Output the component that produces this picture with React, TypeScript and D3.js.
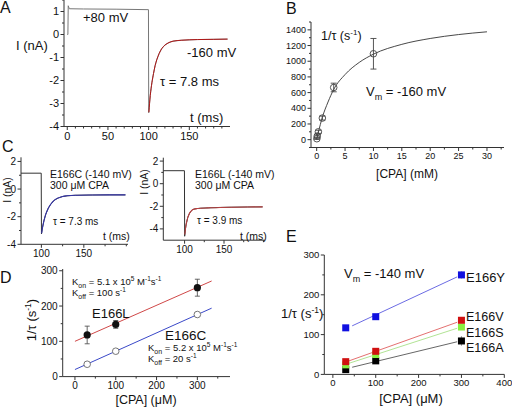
import React from "react";
import * as d3 from "d3";

// ---------- DATA ----------
// Panel A: recorded current (t ms, I nA) and exponential fit (tau = 7.8 ms)
const traceA: [number, number][] = [
  [0, 0], [0.8, 0], [1.2, 1.25], [2.5, 1.12], [20, 1.11], [60, 1.1], [99.8, 1.08],
  [100.1, -3.4], [102, -2.65], [104, -2.1], [106, -1.7], [108, -1.35], [110, -1.1],
  [113, -0.82], [116, -0.62], [120, -0.46], [125, -0.35], [130, -0.29], [140, -0.25],
  [160, -0.22], [180, -0.21], [197, -0.2],
];
const fitA: [number, number][] = [
  [100.3, -3.38], [102, -2.65], [104, -2.1], [106, -1.7], [108, -1.35], [110, -1.1],
  [113, -0.82], [116, -0.62], [120, -0.46], [125, -0.35], [130, -0.29], [140, -0.25],
  [160, -0.22], [180, -0.21], [197, -0.2],
];
const ticksA_x = [0, 50, 100, 150];
const ticksA_y = [-4, -3, -2, -1, 0, 1];

// Panel B: 1/tau vs [CPA] (mM)
const cpaB = [0.03, 0.1, 0.3, 1, 3, 10];
const rateB = [12, 45, 100, 275, 665, 1095];
const errB = [8, 15, 20, 25, 55, 195];
const fitB: [number, number][] = [
  [0, 5], [0.3, 95], [1, 285], [2, 480], [3, 640], [5, 830], [7.5, 985], [10, 1090],
  [15, 1215], [20, 1290], [25, 1340], [30, 1375],
];
const ticksB_x = [0, 5, 10, 15, 20, 25, 30];
const ticksB_y = [0, 200, 400, 600, 800, 1000, 1200, 1400];

// Panel C: E166C and E166L traces at -140 mV, 300 uM CPA
const traceC1: [number, number][] = [
  [76, 1.15], [99.8, 1.15], [100.1, -3.25], [101, -2.9], [103, -2.3], [105, -1.85],
  [108, -1.4], [111, -1.1], [115, -0.82], [120, -0.64], [125, -0.54], [130, -0.49],
  [140, -0.45], [160, -0.43], [180, -0.42], [199, -0.42],
];
const fitC1: [number, number][] = [
  [100.3, -3.2], [101, -2.9], [103, -2.3], [105, -1.85], [108, -1.4], [111, -1.1],
  [115, -0.82], [120, -0.64], [125, -0.54], [130, -0.49], [140, -0.45], [160, -0.43],
  [180, -0.42], [199, -0.42],
];
const traceC2: [number, number][] = [
  [73, 1.15], [99.8, 1.15], [100.1, -4.65], [101, -4.05], [102, -3.6], [104, -3.0],
  [106, -2.65], [108, -2.45], [110, -2.3], [112, -2.25], [116, -2.2], [120, -2.17],
  [130, -2.14], [145, -2.1], [160, -2.08], [180, -2.06], [199, -2.05],
];
const fitC2: [number, number][] = [
  [100.3, -4.5], [101, -4.05], [102, -3.6], [104, -3.0], [106, -2.65], [108, -2.45],
  [110, -2.3], [112, -2.25], [116, -2.2], [120, -2.17], [130, -2.14], [145, -2.1],
  [160, -2.08], [180, -2.06], [199, -2.05],
];
const ticksC_x = [100, 150];
const ticksC_y = [-4, -2, 0, 2];

// Panel D: linear rate vs [CPA] (uM)
const cpaD = [30, 100, 300];
const rateD_L = [118, 148, 252];
const errD_L = [25, 11, 24];
const rateD_C = [35, 72, 176];
const lineD_L: [number, number][] = [[0, 100], [335, 271]];
const lineD_C: [number, number][] = [[0, 20], [335, 194]];
const ticksD_x = [0, 100, 200, 300];
const ticksD_y = [0, 100, 200, 300];

// Panel E: mutants at -140 mV
const cpaE = [30, 100, 300];
const rateE_Y = [117, 145, 250];
const rateE_V = [32, 58, 136];
const rateE_S = [24, 50, 119];
const rateE_A = [12, 34, 84];
const errE_A = [3, 4, 12];
const errE_Y = [3, 4, 9];
const lineE_Y: [number, number][] = [[45, 122], [290, 245]];
const lineE_V: [number, number][] = [[35, 33], [290, 131]];
const lineE_S: [number, number][] = [[35, 27], [290, 116]];
const lineE_A: [number, number][] = [[45, 18], [290, 82]];
const ticksE_x = [0, 100, 200, 300, 400];
const ticksE_y = [0, 100, 200, 300];

// ---------- HELPERS ----------
const FONT = "'Liberation Sans', Arial, Helvetica, sans-serif";
const AX = "#333";

type Sc = d3.ScaleLinear<number, number>;

function range(a: number, b: number, s: number) {
  const r: number[] = [];
  for (let v = a; v <= b + 1e-9; v += s) r.push(+v.toFixed(6));
  return r;
}

function LeftAxis({ x, y, major, minor, fs }: { x: Sc; y: Sc; major: number[]; minor: number[]; fs: number }) {
  const x0 = x.range()[0];
  const [r0, r1] = y.range();
  return (
    <g stroke={AX} strokeWidth={1}>
      <line x1={x0} x2={x0} y1={r0} y2={r1} />
      {minor.map((v) => (
        <line key={"m" + v} x1={x0 - 2} x2={x0} y1={y(v)} y2={y(v)} />
      ))}
      {major.map((v) => (
        <g key={v}>
          <line x1={x0 - 3.5} x2={x0} y1={y(v)} y2={y(v)} />
          <text x={x0 - 5} y={y(v)} dy="0.35em" textAnchor="end" fontSize={fs} stroke="none" fill="#111">
            {v}
          </text>
        </g>
      ))}
    </g>
  );
}

function BottomAxis({ x, y, major, minor, fs }: { x: Sc; y: Sc; major: number[]; minor: number[]; fs: number }) {
  const y0 = y.range()[0];
  const [r0, r1] = x.range();
  return (
    <g stroke={AX} strokeWidth={1}>
      <line x1={r0} x2={r1} y1={y0} y2={y0} />
      {minor.map((v) => (
        <line key={"m" + v} x1={x(v)} x2={x(v)} y1={y0} y2={y0 + 2} />
      ))}
      {major.map((v) => (
        <g key={v}>
          <line x1={x(v)} x2={x(v)} y1={y0} y2={y0 + 3.5} />
          <text x={x(v)} y={y0 + 4 + fs * 0.85} textAnchor="middle" fontSize={fs} stroke="none" fill="#111">
            {v}
          </text>
        </g>
      ))}
    </g>
  );
}

function path(pts: [number, number][], x: Sc, y: Sc, smooth: boolean) {
  const l = d3
    .line<[number, number]>()
    .x((d) => x(d[0]))
    .y((d) => y(d[1]))
    .curve(smooth ? d3.curveMonotoneX : d3.curveLinear);
  return l(pts) || "";
}

function ErrBar({ cx, y, v, e, w = 3, color = "#555" }: { cx: number; y: Sc; v: number; e: number; w?: number; color?: string }) {
  return (
    <g stroke={color} strokeWidth={0.9}>
      <line x1={cx} x2={cx} y1={y(v - e)} y2={y(v + e)} />
      <line x1={cx - w} x2={cx + w} y1={y(v - e)} y2={y(v - e)} />
      <line x1={cx - w} x2={cx + w} y1={y(v + e)} y2={y(v + e)} />
    </g>
  );
}

// ---------- APP ----------
export default function App() {
  // Panel A scales
  const xA = d3.scaleLinear().domain([-4, 200]).range([64, 230]);
  const yA = d3.scaleLinear().domain([-4, 1.5]).range([126.5, 0]);
  // Panel B
  const xB = d3.scaleLinear().domain([-1, 33]).range([311, 504]);
  const yB = d3.scaleLinear().domain([-100, 1500]).range([147.5, 22]);
  // Panel C
  const xC1 = d3.scaleLinear().domain([76, 202]).range([21, 128]);
  const yC1 = d3.scaleLinear().domain([-4, 2.3]).range([244.3, 157.3]);
  const xC2 = d3.scaleLinear().domain([73, 202]).range([163.3, 265]);
  const yC2 = d3.scaleLinear().domain([-5, 2.3]).range([240.2, 157.7]);
  // Panel D
  const xD = d3.scaleLinear().domain([-30, 380]).range([62.7, 230]);
  const yD = d3.scaleLinear().domain([0, 305]).range([376.6, 269]);
  // Panel E
  const xE = d3.scaleLinear().domain([-20, 400]).range([324.3, 504.3]);
  const yE = d3.scaleLinear().domain([0, 300]).range([374.4, 255]);

  const sq = 7;

  return (
    <svg
      width={512}
      height={407}
      viewBox="0 0 512 407"
      style={{ position: "absolute", left: 0, top: 0, background: "#fff" }}
      fontFamily={FONT}
    >
      <rect width={512} height={407} fill="#fff" />

      {/* ---------------- Panel A ---------------- */}
      <text x={0} y={13} fontSize={16} fill="#111">A</text>
      <LeftAxis x={xA} y={yA} major={ticksA_y} minor={range(-3.5, 1.5, 1)} fs={11} />
      <BottomAxis x={xA} y={yA} major={ticksA_x} minor={range(10, 190, 10).filter((v) => v % 50 !== 0)} fs={11} />
      <path d={path(traceA, xA, yA, false)} fill="none" stroke="#777" strokeWidth={1} />
      <path d={path(fitA, xA, yA, true)} fill="none" stroke="#b01818" strokeWidth={1} />
      <text x={16} y={50} fontSize={13} fill="#111">I (nA)</text>
      <text x={83} y={22} fontSize={13} fill="#111">+80 mV</text>
      <text x={187} y={57} fontSize={13} fill="#111">-160 mV</text>
      <text x={160} y={86} fontSize={13} fill="#111">τ = 7.8 ms</text>
      <text x={190} y={122} fontSize={13} fill="#111">t (ms)</text>

      {/* ---------------- Panel B ---------------- */}
      <text x={286} y={14} fontSize={16} fill="#111">B</text>
      <LeftAxis x={xB} y={yB} major={ticksB_y} minor={range(-100, 1500, 200)} fs={9} />
      <BottomAxis x={xB} y={yB} major={ticksB_x} minor={range(2.5, 32.5, 5)} fs={9} />
      <path d={path(fitB, xB, yB, true)} fill="none" stroke="#333" strokeWidth={0.9} />
      {cpaB.map((c, i) => (
        <g key={i}>
          <ErrBar cx={xB(c)} y={yB} v={rateB[i]} e={errB[i]} w={3} color="#444" />
          <circle cx={xB(c)} cy={yB(rateB[i])} r={3.3} fill="none" stroke="#444" strokeWidth={0.9} />
        </g>
      ))}
      <text x={321} y={40} fontSize={12.5} fill="#111">
        1/τ (s<tspan dy={-5} fontSize={8}>-1</tspan>
        <tspan dy={5}>)</tspan>
      </text>
      <text x={366} y={96} fontSize={13} fill="#111">
        V<tspan dy={4} fontSize={9}>m</tspan>
        <tspan dy={-4}> = -160 mV</tspan>
      </text>
      <text x={407} y={178} fontSize={12} textAnchor="middle" fill="#111">[CPA] (mM)</text>

      {/* ---------------- Panel C ---------------- */}
      <text x={2} y={152} fontSize={16} fill="#111">C</text>
      <LeftAxis x={xC1} y={yC1} major={ticksC_y} minor={[-3, -1, 1]} fs={10} />
      <BottomAxis x={xC1} y={yC1} major={ticksC_x} minor={[125, 175, 200]} fs={10} />
      <path d={path(traceC1, xC1, yC1, false)} fill="none" stroke="#333" strokeWidth={1} />
      <path d={path(fitC1, xC1, yC1, true)} fill="none" stroke="#3535a8" strokeWidth={1.1} />
      <text transform="translate(11,190) rotate(-90)" textAnchor="middle" fontSize={10.5} fill="#111">I (nA)</text>
      <text x={50} y={178} fontSize={10.5} fill="#111">E166C (-140 mV)</text>
      <text x={50} y={189} fontSize={10.5} fill="#111">300 μM CPA</text>
      <text x={53} y={225} fontSize={10} fill="#111">τ = 7.3 ms</text>
      <text x={103} y={240} fontSize={10.5} fill="#111">t (ms)</text>

      <LeftAxis x={xC2} y={yC2} major={ticksC_y} minor={[-3, -1, 1]} fs={10} />
      <BottomAxis x={xC2} y={yC2} major={ticksC_x} minor={[125, 175, 200]} fs={10} />
      <path d={path(traceC2, xC2, yC2, false)} fill="none" stroke="#333" strokeWidth={1} />
      <path d={path(fitC2, xC2, yC2, true)} fill="none" stroke="#b84040" strokeWidth={1.1} />
      <text transform="translate(148,182) rotate(-90)" textAnchor="middle" fontSize={10.5} fill="#111">I (nA)</text>
      <text x={195} y={178} fontSize={10.5} fill="#111">E166L (-140 mV)</text>
      <text x={195} y={189} fontSize={10.5} fill="#111">300 μM CPA</text>
      <text x={197} y={224} fontSize={10} fill="#111">τ = 3.9 ms</text>
      <text x={240} y={240} fontSize={10.5} fill="#111">t (ms)</text>

      {/* ---------------- Panel D ---------------- */}
      <text x={0} y={283} fontSize={16} fill="#111">D</text>
      <LeftAxis x={xD} y={yD} major={ticksD_y} minor={[50, 150, 250]} fs={10} />
      <BottomAxis x={xD} y={yD} major={ticksD_x} minor={[50, 150, 250, 350]} fs={10} />
      <path d={path(lineD_L, xD, yD, false)} stroke="#d04848" strokeWidth={1} fill="none" />
      <path d={path(lineD_C, xD, yD, false)} stroke="#3a48c8" strokeWidth={1} fill="none" />
      {cpaD.map((c, i) => (
        <g key={i}>
          <ErrBar cx={xD(c)} y={yD} v={rateD_L[i]} e={errD_L[i]} w={2.5} color="#555" />
          <circle cx={xD(c)} cy={yD(rateD_L[i])} r={3.6} fill="#111" />
          <circle cx={xD(c)} cy={yD(rateD_C[i])} r={3.3} fill="#fff" stroke="#666" strokeWidth={0.9} />
        </g>
      ))}
      <text x={72} y={285} fontSize={9.5} fill="#111">
        K<tspan dy={2.5} fontSize={7}>on</tspan>
        <tspan dy={-2.5}> = 5.1 x 10</tspan>
        <tspan dy={-4} fontSize={6.5}>5</tspan>
        <tspan dy={4}> M</tspan>
        <tspan dy={-4} fontSize={6.5}>-1</tspan>
        <tspan dy={4}>s</tspan>
        <tspan dy={-4} fontSize={6.5}>-1</tspan>
      </text>
      <text x={72} y={296} fontSize={9.5} fill="#111">
        K<tspan dy={2.5} fontSize={7}>off</tspan>
        <tspan dy={-2.5}> = 100 s</tspan>
        <tspan dy={-4} fontSize={6.5}>-1</tspan>
      </text>
      <text x={92} y={318} fontSize={13} fill="#111">E166L</text>
      <text x={165} y={340} fontSize={13.5} fill="#111">E166C</text>
      <text x={148} y={351} fontSize={9.5} fill="#111">
        K<tspan dy={2.5} fontSize={7}>on</tspan>
        <tspan dy={-2.5}> = 5.2 x 10</tspan>
        <tspan dy={-4} fontSize={6.5}>5</tspan>
        <tspan dy={4}> M</tspan>
        <tspan dy={-4} fontSize={6.5}>-1</tspan>
        <tspan dy={4}>s</tspan>
        <tspan dy={-4} fontSize={6.5}>-1</tspan>
      </text>
      <text x={148} y={362} fontSize={9.5} fill="#111">
        K<tspan dy={2.5} fontSize={7}>off</tspan>
        <tspan dy={-2.5}> = 20 s</tspan>
        <tspan dy={-4} fontSize={6.5}>-1</tspan>
      </text>
      <text transform="translate(36,320) rotate(-90)" textAnchor="middle" fontSize={13} fill="#111">
        1/τ (s<tspan dy={-5} fontSize={8.5}>-1</tspan>
        <tspan dy={5}>)</tspan>
      </text>
      <text x={146} y={404} fontSize={12.5} textAnchor="middle" fill="#111">[CPA] (μM)</text>

      {/* ---------------- Panel E ---------------- */}
      <text x={286} y={242} fontSize={16} fill="#111">E</text>
      <LeftAxis x={xE} y={yE} major={ticksE_y} minor={[50, 150, 250]} fs={9.5} />
      <BottomAxis x={xE} y={yE} major={ticksE_x} minor={[50, 150, 250, 350]} fs={9.5} />
      <path d={path(lineE_Y, xE, yE, false)} stroke="#5a5ae0" strokeWidth={0.9} fill="none" />
      <path d={path(lineE_V, xE, yE, false)} stroke="#e06060" strokeWidth={0.9} fill="none" />
      <path d={path(lineE_S, xE, yE, false)} stroke="#a8e088" strokeWidth={0.9} fill="none" />
      <path d={path(lineE_A, xE, yE, false)} stroke="#555" strokeWidth={0.9} fill="none" />
      {cpaE.map((c, i) => (
        <g key={i}>
          <ErrBar cx={xE(c)} y={yE} v={rateE_A[i]} e={errE_A[i]} w={0} color="#888" />
          <ErrBar cx={xE(c)} y={yE} v={rateE_Y[i]} e={errE_Y[i]} w={0} color="#888" />
          <rect x={xE(c) - sq / 2} y={yE(rateE_Y[i]) - sq / 2} width={sq} height={sq} fill="#1010e0" />
          <rect x={xE(c) - sq / 2} y={yE(rateE_A[i]) - sq / 2} width={sq} height={sq} fill="#000" />
          <rect x={xE(c) - sq / 2} y={yE(rateE_S[i]) - sq / 2} width={sq} height={sq} fill="#88f040" />
          <rect x={xE(c) - sq / 2} y={yE(rateE_V[i]) - sq / 2} width={sq} height={sq} fill="#d01010" />
        </g>
      ))}
      <text x={344} y={278} fontSize={13} fill="#111">
        V<tspan dy={4} fontSize={9}>m</tspan>
        <tspan dy={-4}> = -140 mV</tspan>
      </text>
      <text x={281} y={318} fontSize={13} fill="#111">
        1/τ (s<tspan dy={-5} fontSize={8.5}>-1</tspan>
        <tspan dy={5}>)</tspan>
      </text>
      <text x={466} y={282} fontSize={13} fill="#111">E166Y</text>
      <text x={466} y={321} fontSize={12.5} fill="#111">E166V</text>
      <text x={466} y={336.5} fontSize={12.5} fill="#111">E166S</text>
      <text x={466} y={352} fontSize={12.5} fill="#111">E166A</text>
      <text x={411} y={403} fontSize={13} textAnchor="middle" fill="#111">[CPA] (μM)</text>
    </svg>
  );
}
